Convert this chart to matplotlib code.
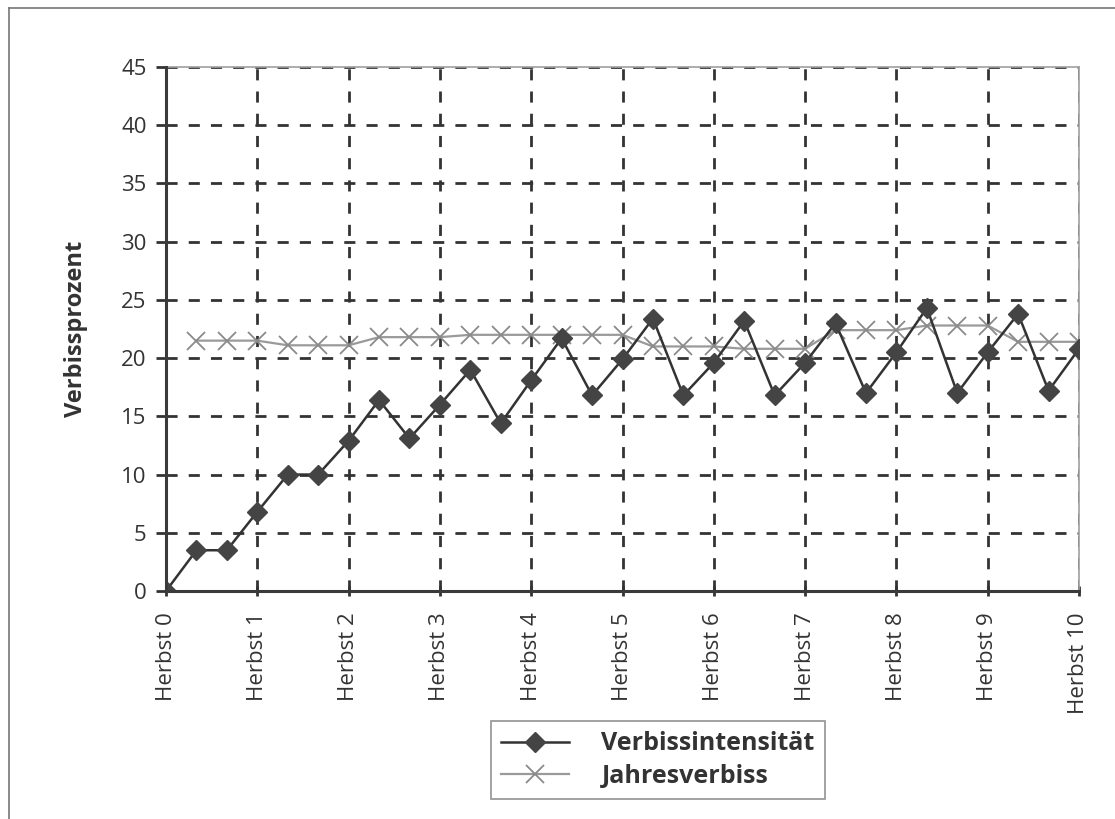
import matplotlib
matplotlib.use("Agg")
import matplotlib.pyplot as plt
from matplotlib.lines import Line2D
import numpy as np

plt.rcParams['font.family'] = ['Open Sans', 'DejaVu Sans']

# Data: three readings per year (x in years, steps of 1/3)
x_labels = [f"Herbst {i}" for i in range(11)]
steps_per_year = 3

verbissintensitaet = [0, 3.5, 3.5, 6.8, 10.0, 10.0, 12.9, 16.4, 13.1, 16.0,
                      19.0, 14.4, 18.1, 21.7, 16.8, 19.9, 23.4, 16.8, 19.6,
                      23.2, 16.8, 19.6, 23.0, 17.0, 20.5, 24.3, 17.0, 20.5,
                      23.8, 17.2, 20.8]
jahresverbiss = [21.5, 21.5, 21.5, 21.1, 21.1, 21.1, 21.8, 21.8, 21.8, 22.0,
                 22.0, 22.0, 22.0, 22.0, 22.0, 21.0, 21.0, 21.0, 20.8, 20.8,
                 20.8, 22.4, 22.4, 22.4, 22.8, 22.8, 22.8, 21.4, 21.4, 21.4]

x_int = np.arange(len(verbissintensitaet)) / steps_per_year
x_jahr = np.arange(1, len(jahresverbiss) + 1) / steps_per_year

fig = plt.figure(figsize=(11.15, 8.19), dpi=100)
ax = fig.add_axes([166/1115, 1-591/819, 913/1115, 524/819])

ax.plot(x_jahr, jahresverbiss, color='#9a9a9a', lw=1.6, marker='x',
        markersize=13, markeredgewidth=1.3, markeredgecolor='#8a8a8a',
        label='Jahresverbiss', zorder=3)
ax.plot(x_int, verbissintensitaet, color='#333333', lw=1.8, marker='D',
        markersize=10, markerfacecolor='#444444', markeredgecolor='#444444',
        label='Verbissintensität', zorder=4)

ax.set_xlim(0, 10)
ax.set_ylim(0, 45)
ax.set_yticks(np.arange(0, 46, 5))
ax.set_xticks(np.arange(11))
ax.set_xticklabels(x_labels, rotation=90, fontsize=16, color='#333333')
ax.tick_params(axis='y', labelsize=16, colors='#333333', length=7, width=2,
               direction='out', pad=7)
ax.tick_params(axis='x', length=7, width=2, direction='inout', pad=12,
               colors='#333333')
for lbl in ax.get_yticklabels():
    lbl.set_color('#333333')

ax.grid(True, color='#333333', linestyle=(0, (4, 4)), linewidth=2)
ax.set_axisbelow(True)

for s in ['left', 'bottom']:
    ax.spines[s].set_color('#3a3a3a')
    ax.spines[s].set_linewidth(2.2)
    ax.spines[s].set_zorder(5)
for s in ['top', 'right']:
    ax.spines[s].set_color('#a0a0a0')
    ax.spines[s].set_linewidth(1.2)

ax.set_ylabel('Verbissprozent', fontsize=17, fontweight='bold',
              color='#333333', labelpad=24)

handles, labels = ax.get_legend_handles_labels()
leg = fig.legend(handles[::-1], labels[::-1], loc='center',
                 bbox_to_anchor=(658/1115, 1-760/819),
                 prop={'size': 18, 'weight': 'bold'}, frameon=True,
                 fancybox=False, edgecolor='#777777', handlelength=2.7,
                 borderpad=0.4, labelspacing=0.3, handletextpad=1.3)
leg.get_frame().set_linewidth(1.2)
for t in leg.get_texts():
    t.set_color('#333333')

# page frame lines (top and left)
fig.add_artist(Line2D([9/1115, 1], [1-8/819, 1-8/819], color='#777777', lw=1.2))
fig.add_artist(Line2D([9/1115, 9/1115], [0, 1-8/819], color='#777777', lw=1.2))

fig.savefig('out.png', dpi=100)
